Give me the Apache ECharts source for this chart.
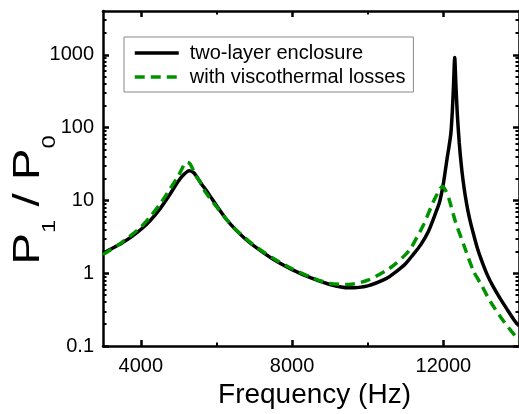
<!DOCTYPE html>
<html>
<head>
<meta charset="utf-8">
<script src="https://cdn.jsdelivr.net/npm/echarts@6/dist/echarts.min.js"></script>
<style>
html,body{margin:0;padding:0;background:#fff;}
#chart{width:519px;height:414px;}
</style>
</head>
<body>
<div id="chart"></div>
<script>
// ---- data ----
const seriesNames = ['two-layer enclosure', 'with viscothermal losses'];

const freqA = [3000,3250,3500,3750,4000,4250,4500,4750,5000,5150,5275,5400,5600,5800,6000,6250,6500,6750,7000,7500,8000,8500,9000,9500,10000,10500,10700,11000,11200,11400,11600,11800,11900,12000,12100,12150,12200,12240,12270,12300,12330,12370,12420,12470,12520,12580,12650,12720,12800,12900,13000,13150,13300,13500,13700,13890,14000];
const valA  = [1.88,2.2,2.6,3.16,3.98,5.3,7.6,11.7,18.6,23,25.6,24,17,12.2,8.5,5.6,4.0,3.0,2.35,1.55,1.12,0.86,0.70,0.63,0.67,0.85,1.0,1.35,1.8,2.45,3.7,6.8,9.5,17,38,55,85,180,400,920,400,150,62,32,19,11.5,7.2,4.9,3.4,2.2,1.55,0.98,0.68,0.45,0.31,0.22,0.19];

const freqB = [3000,3500,4000,4250,4500,4750,5000,5100,5200,5300,5450,5550,5700,6000,6250,6500,7000,7500,8000,8500,9000,9500,10000,10500,10700,11000,11140,11300,11490,11750,11900,11970,12050,12145,12320,12540,12800,13000,13240,13590,13890,14000];
const valB  = [1.8,2.65,4.3,6.0,8.8,13.8,22,28,33.5,32,22,18.6,13.2,8.2,5.6,4.0,2.4,1.6,1.15,0.88,0.72,0.70,0.80,1.1,1.3,1.8,2.2,3.1,4.8,10,14,15.5,14,10.6,5.1,2.44,1.06,0.7,0.41,0.22,0.14,0.12];

const xTicks = [4000, 8000, 12000];
const xMinorTicks = [6000, 10000];
const yTicks = [0.1, 1, 10, 100, 1000];
const yTickLabels = ['0.1', '1', '10', '100', '1000'];
const yMinorTicks = [0.2,0.3,0.4,0.5,0.6,0.7,0.8,0.9,2,3,4,5,6,7,8,9,20,30,40,50,60,70,80,90,200,300,400,500,600,700,800,900,2000,3000];
const xMin = 3000, xMax = 14000, yMin = 0.1, yMax = 4000;

// ---- chart ----
const FONT = 'Liberation Sans, Arial, sans-serif';
const chart = echarts.init(document.getElementById('chart'), null, {renderer: 'canvas'});

function zip(xs, ys) { return xs.map((x, i) => [x, ys[i]]); }

const lineCol = '#000';
function xAxisDef(pos, ticks, len, w, showLine, labels) {
  return {
    type: 'value', position: pos, min: xMin, max: xMax,
    axisLine: {show: showLine, onZero: false, lineStyle: {color: lineCol, width: 2.5}},
    axisTick: {show: true, inside: true, length: len, lineStyle: {color: lineCol, width: w}, customValues: ticks},
    axisLabel: labels ? {show: true, customValues: ticks, margin: 10, fontSize: 20, fontFamily: FONT, color: '#000',
      formatter: function (v) { return String(Math.round(v)); }} : {show: false},
    splitLine: {show: false}
  };
}
function yAxisDef(pos, ticks, len, w, showLine, labels) {
  return {
    type: 'log', logBase: 10, position: pos, min: yMin, max: yMax,
    axisLine: {show: showLine, onZero: false, lineStyle: {color: lineCol, width: 2.5}},
    axisTick: {show: true, inside: true, length: len, lineStyle: {color: lineCol, width: w}, customValues: ticks},
    axisLabel: labels ? {
      show: true, customValues: ticks, margin: 9, fontSize: 20, fontFamily: FONT, color: '#000',
      formatter: function (v) {
        let best = 0;
        for (let i = 0; i < yTicks.length; i++) {
          if (Math.abs(Math.log10(yTicks[i]) - Math.log10(v)) < Math.abs(Math.log10(yTicks[best]) - Math.log10(v))) best = i;
        }
        return yTickLabels[best];
      }
    } : {show: false},
    splitLine: {show: false}
  };
}

const xMain = xAxisDef('bottom', xTicks, 6, 2.5, true, true);
xMain.name = 'Frequency (Hz)';
xMain.nameLocation = 'middle';
xMain.nameGap = 35;
xMain.nameTextStyle = {fontSize: 28, fontFamily: FONT, color: '#000', padding: [0, 0, 0, 7]};

const option = {
  animation: false,
  backgroundColor: '#fff',
  grid: {left: 103, top: 11, width: 419, bottom: 65.5, containLabel: false},
  xAxis: [
    xMain,
    xAxisDef('bottom', xMinorTicks, 3.5, 2, false, false),
    xAxisDef('top', xTicks, 6, 2.5, true, false),
    xAxisDef('top', xMinorTicks, 3.5, 2, false, false)
  ],
  yAxis: [
    yAxisDef('left', yTicks, 6, 2.5, true, true),
    yAxisDef('left', yMinorTicks, 3.5, 2, false, false),
    yAxisDef('right', yTicks, 6, 2.5, true, false),
    yAxisDef('right', yMinorTicks, 3.5, 2, false, false)
  ],
  legend: {
    orient: 'vertical', left: 124, top: 37,
    itemWidth: 44, itemHeight: 12, itemGap: 4,
    padding: [6, 8, 5, 9],
    borderColor: '#888', borderWidth: 1, backgroundColor: '#fff',
    itemStyle: {opacity: 0, borderWidth: 0},
    lineStyle: {width: 3.5},
    textStyle: {fontSize: 20, fontFamily: FONT, color: '#000', padding: [0, 0, 0, 6]},
    data: seriesNames
  },
  series: [
    {
      name: seriesNames[0], type: 'line', xAxisIndex: 0, yAxisIndex: 0,
      data: zip(freqA, valA), showSymbol: false, symbol: 'none', smooth: 0.25,
      lineStyle: {color: '#000', width: 3.5}, itemStyle: {color: '#000'}, z: 3
    },
    {
      name: seriesNames[1], type: 'line', xAxisIndex: 0, yAxisIndex: 0,
      data: zip(freqB, valB), showSymbol: false, symbol: 'none', smooth: 0.25,
      lineStyle: {color: '#009300', width: 3.5, type: [10, 6]}, itemStyle: {color: '#009300'}, z: 4
    }
  ],
  graphic: [{
    type: 'text', x: 31.5, y: 200, rotation: Math.PI / 2, scaleX: 1.32, scaleY: 1,
    style: {
      text: '{a|P}{b|1}{a| / P}{b|0}',
      align: 'center', verticalAlign: 'middle', fill: '#000',
      rich: {
        a: {fontSize: 36, lineHeight: 40, verticalAlign: 'top', fontFamily: FONT, color: '#000'},
        b: {fontSize: 18, lineHeight: 18, padding: [30, 0, 0, 0], verticalAlign: 'top', fontFamily: FONT, color: '#000'}
      }
    }
  }]
};
chart.setOption(option);
</script>
</body>
</html>
